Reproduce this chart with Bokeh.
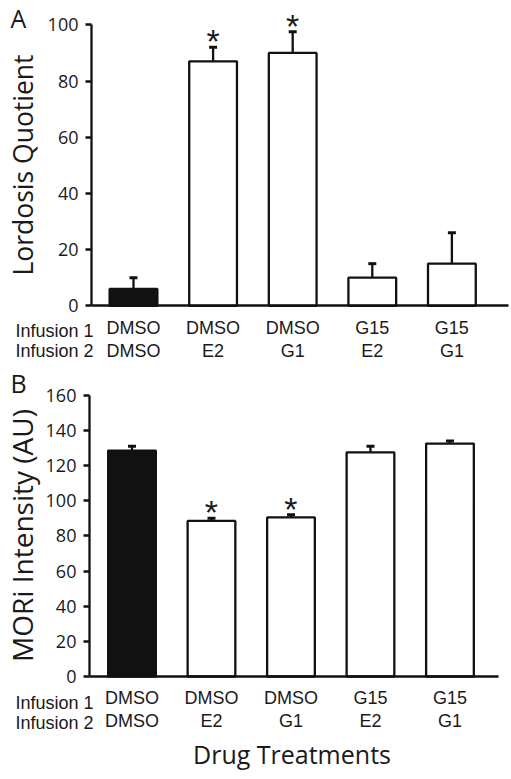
import math
from bokeh.plotting import figure
from bokeh.models import (ColumnDataSource, Range1d, FixedTicker, Whisker, TeeHead, Label,
                          LinearAxis)
from bokeh.layouts import column
from bokeh.embed import file_html
from bokeh.resources import INLINE
from bokeh.core.properties import value

# ---------------- data ----------------
positions = [1, 2, 3, 4, 5]
infusion1 = ["DMSO", "DMSO", "DMSO", "G15", "G15"]
infusion2 = ["DMSO", "E2", "G1", "E2", "G1"]
bar_fill = ["#111111", "white", "white", "white", "white"]

lq_mean = [6, 87, 90, 10, 15]
lq_sem = [4, 5, 7.5, 5, 11]
lq_sig = ["", "*", "*", "", ""]
lq_ticks = [0, 20, 40, 60, 80, 100]

mor_mean = [128.5, 88.5, 90.5, 127.5, 132.5]
mor_sem = [2.5, 1.5, 1.5, 3.5, 1.5]
mor_sig = ["", "*", "*", "", ""]
mor_ticks = [0, 20, 40, 60, 80, 100, 120, 140, 160]

TXT = "#1a1a1a"
INK = "#111111"
SANS = "Open Sans"
ARIAL = "Liberation Sans"


def panel(means, sems, sig, ticks, ylabel, letter, *, width, height, xr, yr,
          yaxis_at, ybounds, xbounds, ylabel_size, ylabel_pos, letter_pos, inf_pos,
          xlabel=None, xlabel_pos=None):
    p = figure(width=width, height=height, output_backend="svg", toolbar_location=None,
               x_range=Range1d(*xr), y_range=Range1d(*yr),
               x_axis_location=None, y_axis_location=None, min_border=0)
    p.min_border_left = p.min_border_right = p.min_border_top = p.min_border_bottom = 0
    p.outline_line_color = None
    p.grid.visible = False
    p.background_fill_color = "white"
    p.border_fill_color = "white"

    src = ColumnDataSource(dict(
        x=positions, mean=means,
        upper=[m + s for m, s in zip(means, sems)],
        fill=bar_fill, star=sig))

    p.vbar(x="x", top="mean", bottom=0, width=0.6, fill_color="fill",
           line_color=INK, line_width=2.3, source=src)
    w = Whisker(base="x", lower="mean", upper="upper", source=src,
                line_color=INK, line_width=2.3, lower_head=None,
                upper_head=TeeHead(size=8, line_width=3, line_color=INK))
    p.add_layout(w)
    p.text(x="x", y="upper", text="star", source=src, text_align="center",
           text_baseline="alphabetic", y_offset=-6, text_font=value(ARIAL),
           text_font_size="34px", text_color=TXT)

    # y axis
    ya = LinearAxis(fixed_location=yaxis_at, bounds=ybounds,
                    ticker=FixedTicker(ticks=ticks))
    ya.axis_line_width = 2.3
    ya.axis_line_color = INK
    ya.major_tick_line_width = 2.3
    ya.major_tick_line_color = INK
    ya.major_tick_in = 0
    ya.major_tick_out = 6
    ya.minor_tick_line_color = None
    ya.major_label_standoff = 7
    ya.major_label_text_font = SANS
    ya.major_label_text_font_size = "18px"
    ya.major_label_text_color = TXT
    p.add_layout(ya, "left")

    # x axis
    xa = LinearAxis(fixed_location=0, bounds=xbounds, ticker=FixedTicker(ticks=positions))
    xa.major_label_overrides = {x: f"{a}\n{b}" for x, a, b in zip(positions, infusion1, infusion2)}
    xa.axis_line_width = 2.3
    xa.axis_line_color = INK
    xa.major_tick_line_color = None
    xa.minor_tick_line_color = None
    xa.major_tick_in = 0
    xa.major_tick_out = 0
    xa.major_label_standoff = 12
    xa.major_label_text_font = ARIAL
    xa.major_label_text_font_size = "18px"
    xa.major_label_text_line_height = 1.15
    xa.major_label_text_color = TXT
    p.add_layout(xa, "below")

    # texts placed in screen pixels of the panel
    p.add_layout(Label(x=ylabel_pos[0], y=ylabel_pos[1], x_units="screen", y_units="screen",
                       text=ylabel, angle=math.pi / 2, text_align="center",
                       text_baseline="alphabetic", text_font=SANS,
                       text_font_size=ylabel_size, text_color=TXT))
    p.add_layout(Label(x=letter_pos[0], y=letter_pos[1], x_units="screen", y_units="screen",
                       text=letter, text_font=SANS, text_font_size="25px", text_color=TXT,
                       text_baseline="alphabetic"))
    p.add_layout(Label(x=inf_pos[0], y=inf_pos[1], x_units="screen", y_units="screen",
                       text="Infusion 1", text_font=ARIAL, text_font_size="18px",
                       text_color=TXT, text_baseline="alphabetic"))
    p.add_layout(Label(x=inf_pos[0], y=inf_pos[1] - 20.6, x_units="screen", y_units="screen",
                       text="Infusion 2", text_font=ARIAL, text_font_size="18px",
                       text_color=TXT, text_baseline="alphabetic"))
    if xlabel:
        p.add_layout(Label(x=xlabel_pos[0], y=xlabel_pos[1], x_units="screen",
                           y_units="screen", text=xlabel, text_align="center",
                           text_baseline="alphabetic", text_font=SANS,
                           text_font_size="25px", text_color=TXT))
    return p


pA = panel(lq_mean, lq_sem, lq_sig, lq_ticks, "Lordosis Quotient", "A",
           width=511, height=364, xr=(-0.671, 5.749), yr=(-20.89, 108.65),
           yaxis_at=0.472, ybounds=(0, 100), xbounds=(0.472, 5.711),
           ylabel_size="26.5px", ylabel_pos=(22, 199.5), letter_pos=(10, 347),
           inf_pos=(15, 34))
pB = panel(mor_mean, mor_sem, mor_sig, mor_ticks, "MORi Intensity (AU)", "B",
           width=511, height=415, xr=(-0.654, 5.774), yr=(-58.59, 177.46),
           yaxis_at=0.465, ybounds=(0, 160), xbounds=(0.465, 5.616),
           ylabel_size="28px", ylabel_pos=(21, 244), letter_pos=(10, 397),
           inf_pos=(15, 77), xlabel="Drug Treatments", xlabel_pos=(291.5, 26))

layout = column(pA, pB, spacing=0)
open("out.html", "w").write(file_html(layout, INLINE))
